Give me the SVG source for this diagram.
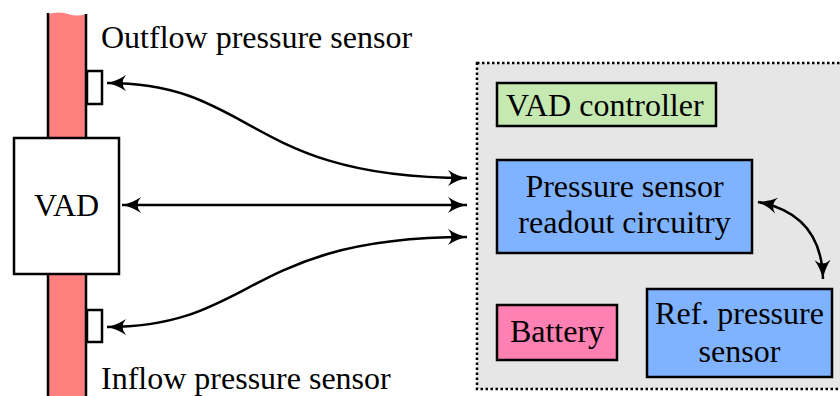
<svg xmlns="http://www.w3.org/2000/svg" width="840" height="396" viewBox="0 0 840 396">
<style>
.t{font-family:"Liberation Serif","Times New Roman",serif;font-size:32px;fill:#000}
.c{text-anchor:middle}
.b{stroke:#000;stroke-width:2.5}
.w{fill:none;stroke:#000;stroke-width:2.5}
</style>
<defs>
<marker id="ah" markerUnits="userSpaceOnUse" markerWidth="26" markerHeight="22" viewBox="-20 -11 22 22" refX="0" refY="0" orient="auto-start-reverse">
<path d="M0,0 Q-10,-2 -19,-8 Q-12,0 -19,8 Q-10,2 0,0 Z" fill="#000"/>
</marker>
</defs>
<g id="container">
<rect x="477" y="63" width="380" height="326" fill="#e6e6e6" stroke="#000" stroke-width="2.5" stroke-dasharray="2.5,2.5"/>
</g>
<g id="tube">
<path d="M48,14 Q60,11 68,14 Q78,17 86,14 L86,400 L48,400 Z" fill="#ff7f7f"/>
<line class="b" x1="48" y1="13" x2="48" y2="400"/>
<line class="b" x1="86" y1="14" x2="86" y2="400"/>
</g>
<g id="outflow-sensor">
<rect x="87" y="71" width="15" height="33" fill="#fff" class="b"/>
<text class="t" x="101" y="48">Outflow pressure sensor</text>
</g>
<g id="inflow-sensor">
<rect x="87" y="310" width="15" height="32" fill="#fff" class="b"/>
<text class="t" x="101" y="389">Inflow pressure sensor</text>
</g>
<g id="vad">
<rect x="14" y="138" width="105" height="136" fill="#fff" class="b"/>
<text class="t c" x="66.5" y="216">VAD</text>
</g>
<g id="vad-controller">
<rect x="497" y="83" width="219" height="43" fill="#c6e9b1" class="b"/>
<text class="t" x="506" y="116">VAD controller</text>
</g>
<g id="readout">
<rect x="497" y="160" width="255" height="93" fill="#80b3ff" class="b"/>
<text class="t c" x="624.5" y="197">Pressure sensor</text>
<text class="t c" x="624.5" y="233">readout circuitry</text>
</g>
<g id="battery">
<rect x="497" y="305" width="120" height="55" fill="#ff80b2" class="b"/>
<text class="t c" x="557" y="342">Battery</text>
</g>
<g id="ref-sensor">
<rect x="647" y="289" width="185" height="88" fill="#80b3ff" class="b"/>
<text class="t c" x="739.5" y="324">Ref. pressure</text>
<text class="t c" x="739.5" y="362">sensor</text>
</g>
<g id="connectors">
<path class="w" d="M107,83 C255,83 245,178 467,178" marker-start="url(#ah)" marker-end="url(#ah)"/>
<path class="w" d="M122,205 L467,205" marker-start="url(#ah)" marker-end="url(#ah)"/>
<path class="w" d="M107,327 C255,327 245,237 467,237" marker-start="url(#ah)" marker-end="url(#ah)"/>
<path class="w" d="M758,202 C800,210 822,235 823,279" marker-start="url(#ah)" marker-end="url(#ah)"/>
</g>
</svg>
